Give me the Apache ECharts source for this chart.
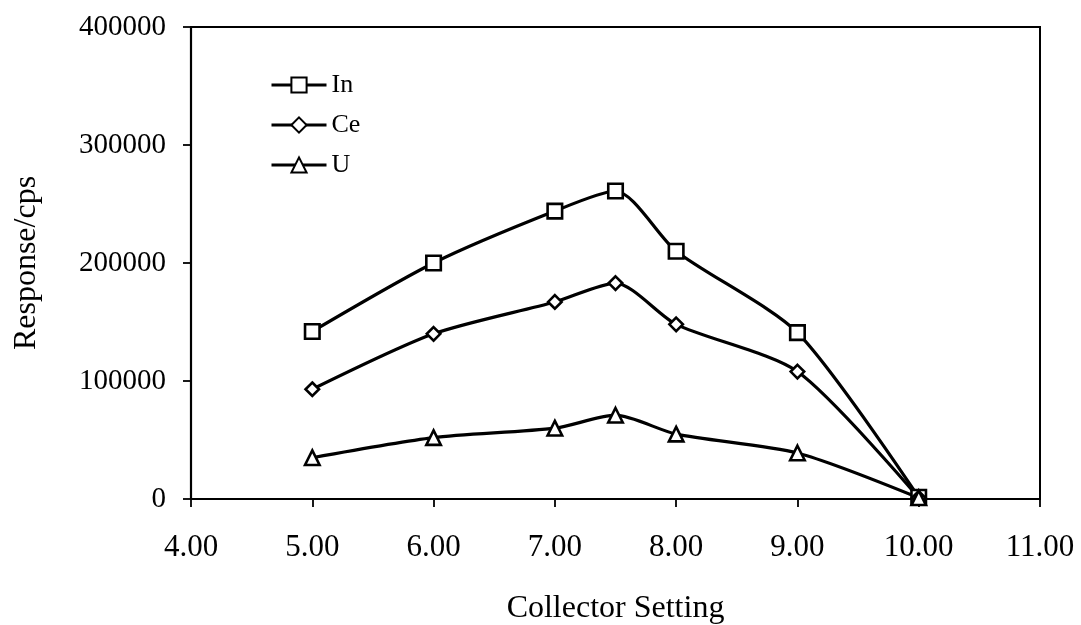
<!DOCTYPE html>
<html>
<head>
<meta charset="utf-8">
<script src="https://cdn.jsdelivr.net/npm/echarts@6/dist/echarts.min.js"></script>
<style>
html,body{margin:0;padding:0;background:#fff;}
#chart{width:1081px;height:625px;}
</style>
</head>
<body>
<div id="chart"></div>
<script>
const collector = [5.0, 6.0, 7.0, 7.5, 8.0, 9.0, 10.0];
const seriesNames = ['In', 'Ce', 'U'];
const inValues = [142000, 200000, 244000, 261000, 210000, 141000, 1500];
const ceValues = [93000, 140000, 167000, 183000, 148000, 108000, 1000];
const uValues = [35000, 52000, 60000, 71000, 55000, 39000, 1000];
const xTicks = [4, 5, 6, 7, 8, 9, 10, 11];
const yTicks = [0, 100000, 200000, 300000, 400000];

const FONT = 'Liberation Serif';
function pairs(vals) { return collector.map((x, i) => [x, vals[i]]); }

const common = {
  type: 'line',
  smooth: 0.25,
  lineStyle: { color: '#000', width: 3.2 },
  itemStyle: { color: '#fff', borderColor: '#000', borderWidth: 2.6 },
  emphasis: { disabled: true },
  z: 3
};

const chart = echarts.init(document.getElementById('chart'), null, { renderer: 'canvas' });
chart.setOption({
  animation: false,
  backgroundColor: '#fff',
  grid: {
    left: 191, right: 41, top: 27, bottom: 126,
    containLabel: false, outerBoundsMode: 'none',
    show: true, borderColor: '#000', borderWidth: 2, backgroundColor: 'transparent'
  },
  legend: {
    orient: 'vertical',
    left: 265, top: 67,
    itemWidth: 55, itemHeight: 19, itemGap: 14,
    lineStyle: { width: 3 },
    textStyle: { fontFamily: FONT, fontSize: 26, color: '#000' },
    data: seriesNames
  },
  xAxis: {
    type: 'value',
    min: xTicks[0], max: xTicks[xTicks.length - 1], interval: 1,
    name: 'Collector Setting',
    nameLocation: 'middle', nameGap: 94,
    nameTextStyle: { fontFamily: FONT, fontSize: 32, color: '#000' },
    axisLine: { show: true, onZero: false, lineStyle: { color: '#000', width: 2.2 } },
    axisTick: { show: true, inside: false, length: 8, lineStyle: { color: '#000', width: 1.8 } },
    axisLabel: {
      fontFamily: FONT, fontSize: 31, color: '#000', margin: 33,
      formatter: v => v.toFixed(2)
    },
    splitLine: { show: false }
  },
  yAxis: {
    type: 'value',
    min: yTicks[0], max: yTicks[yTicks.length - 1], interval: 100000,
    name: 'Response/cps',
    nameLocation: 'middle', nameGap: 148,
    nameTextStyle: { fontFamily: FONT, fontSize: 32, color: '#000' },
    axisLine: { show: true, lineStyle: { color: '#000', width: 2.2 } },
    axisTick: { show: true, inside: false, length: 8, lineStyle: { color: '#000', width: 1.8 } },
    axisLabel: { fontFamily: FONT, fontSize: 29, color: '#000', margin: 25, formatter: v => String(v) },
    splitLine: { show: false }
  },
  series: [
    Object.assign({}, common, { name: seriesNames[0], symbol: 'rect', symbolSize: 14.5, data: pairs(inValues) }),
    Object.assign({}, common, { name: seriesNames[1], symbol: 'diamond', symbolSize: 13.5, data: pairs(ceValues) }),
    Object.assign({}, common, { name: seriesNames[2], symbol: 'triangle', symbolSize: 14.5, data: pairs(uValues) })
  ]
});
</script>
</body>
</html>
